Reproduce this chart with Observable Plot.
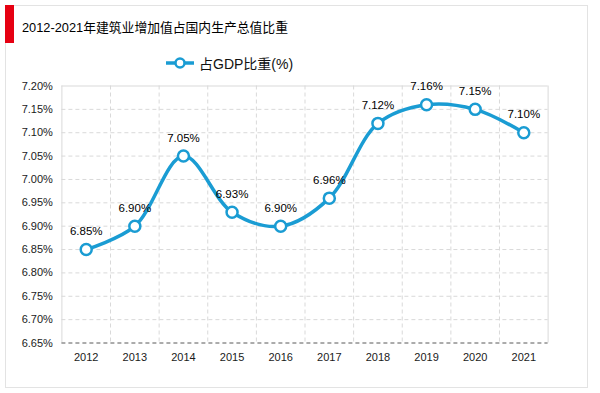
<!DOCTYPE html>
<html><head><meta charset="utf-8">
<script src="https://cdn.jsdelivr.net/npm/d3@7"></script>
<script src="https://cdn.jsdelivr.net/npm/@observablehq/plot@0.6"></script>
<style>
body{margin:0;background:#fff;font-family:"Liberation Sans","Noto Sans CJK SC",Arial,sans-serif;}
#wrap{position:relative;width:600px;height:393px;overflow:hidden;background:#fff;}
#card{position:absolute;left:5px;top:5px;width:583px;height:383px;border:1px solid #e3e3e3;box-sizing:border-box;}
#bar{position:absolute;left:5px;top:5px;width:9px;height:38px;background:#e60012;}
#title{position:absolute;left:22px;top:17px;font-size:12.8px;color:#000;white-space:nowrap;}
#legend{position:absolute;left:165px;top:53px;font-size:14px;color:#111;display:flex;align-items:center;white-space:nowrap;}
#legend svg{margin-right:4px;}
#chart{position:absolute;left:0;top:75px;}
</style></head>
<body>
<div id="wrap">
  <div id="card"></div>
  <div id="bar"></div>
  <div id="title">2012-2021年建筑业增加值占国内生产总值比重</div>
  <div id="legend"><svg width="30" height="14"><line x1="1" y1="7" x2="29" y2="7" stroke="#1a9cd3" stroke-width="3.5"/><circle cx="15" cy="7" r="4.5" fill="#fff" stroke="#1a9cd3" stroke-width="2.5"/></svg><span>占GDP比重(%)</span></div>
  <div id="chart"></div>
</div>
<script>
const years = [2012, 2013, 2014, 2015, 2016, 2017, 2018, 2019, 2020, 2021];
const values = [6.85, 6.90, 7.05, 6.93, 6.90, 6.96, 7.12, 7.16, 7.15, 7.10];
const yTicks = [6.65, 6.70, 6.75, 6.80, 6.85, 6.90, 6.95, 7.00, 7.05, 7.10, 7.15, 7.20];
const labels = ["6.85%", "6.90%", "7.05%", "6.93%", "6.90%", "6.96%", "7.12%", "7.16%", "7.15%", "7.10%"];

const blue = "#1a9cd3";
const gridColor = "#d9d9d9";
const xMin = years[0] - 0.5, xMax = years[years.length - 1] + 0.5;
const xBounds = years.slice(0, -1).map(y => y + 0.5);
const yMin = yTicks[0], yMax = yTicks[yTicks.length - 1];

const chart = Plot.plot({
  width: 600,
  height: 318,
  marginLeft: 61.4,
  marginRight: 52.4,
  marginTop: 10.5,
  marginBottom: 50.5,
  style: {fontFamily: "'Liberation Sans', Arial, sans-serif", fontSize: "11px", color: "#1a1a1a", background: "transparent"},
  x: {domain: [xMin, xMax], ticks: years, tickFormat: d => String(d), tickSize: 0, tickPadding: 10, label: null},
  y: {domain: [yMin, yMax], ticks: yTicks, tickFormat: d => d.toFixed(2) + "%", tickSize: 0, tickPadding: 9, label: null},
  marks: [
    Plot.ruleY(yTicks.slice(1, -1), {stroke: gridColor, strokeDasharray: "4,3", strokeWidth: 1}),
    Plot.ruleX(xBounds, {stroke: gridColor, strokeDasharray: "4,3", strokeWidth: 1}),
    Plot.ruleX([xMin, xMax], {stroke: gridColor, strokeWidth: 1}),
    Plot.ruleY([yMax], {stroke: gridColor, strokeWidth: 1}),
    Plot.ruleY([yMin], {stroke: "#595959", strokeDasharray: "4,3", strokeWidth: 1}),
    Plot.line(values, {x: years, y: values, curve: "catmull-rom", stroke: blue, strokeWidth: 3.5}),
    Plot.dot(values, {x: years, y: values, r: 5.5, fill: "#fff", stroke: blue, strokeWidth: 2.5}),
    Plot.text(values, {x: years, y: values, text: labels, dy: -18, fill: "#000", fontSize: 11.5})
  ]
});
document.getElementById("chart").appendChild(chart);
</script>
</body></html>
